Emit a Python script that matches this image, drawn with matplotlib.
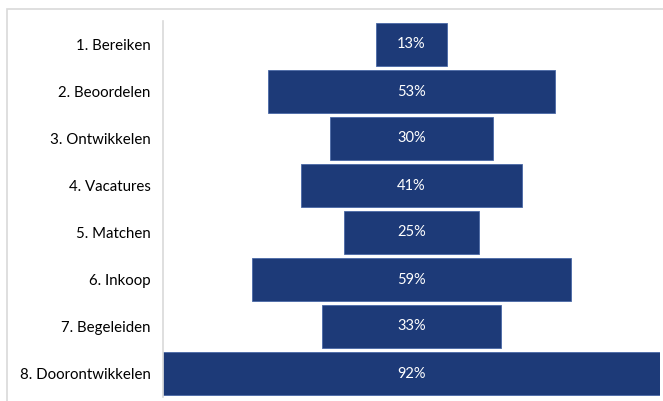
import matplotlib
matplotlib.use("Agg")
import matplotlib.pyplot as plt
from matplotlib.patches import Rectangle

stages = ["1. Bereiken", "2. Beoordelen", "3. Ontwikkelen", "4. Vacatures",
          "5. Matchen", "6. Inkoop", "7. Begeleiden", "8. Doorontwikkelen"]
values = [13, 53, 30, 41, 25, 59, 33, 92]

plt.rcParams['font.family'] = ['Lato', 'DejaVu Sans']

W, H = 663, 401
fig = plt.figure(figsize=(W / 100, H / 100), dpi=100)
fig.patches.append(Rectangle((7 / W, -0.1), 1.2, 1 - 9 / H + 0.1, transform=fig.transFigure,
                             fill=False, edgecolor='#d9d9d9', linewidth=1.2))

ax = fig.add_axes([163 / W, 4 / H, (660 - 163) / W, (397 - 21) / H])
ypos = list(range(len(stages)))
lefts = [-v / 2 for v in values]
ax.barh(ypos, values, left=lefts, height=0.915, color='#1d3a78',
        edgecolor='#4a68a6', linewidth=0.6)
for y, v in zip(ypos, values):
    ax.text(0, y, f"{v}%", ha='center', va='center', color='white', fontsize=10.5)

ax.set_xlim(-46, 46)
ax.set_ylim(len(stages) - 0.5, -0.5)
ax.set_yticks(ypos)
ax.set_yticklabels(stages, fontsize=10.8)
ax.tick_params(axis='y', length=0, pad=9)
ax.set_xticks([])
for s in ['top', 'right', 'bottom']:
    ax.spines[s].set_visible(False)
ax.spines['left'].set_color('#d9d9d9')
ax.spines['left'].set_linewidth(1.2)

fig.savefig("out.png", dpi=100)
